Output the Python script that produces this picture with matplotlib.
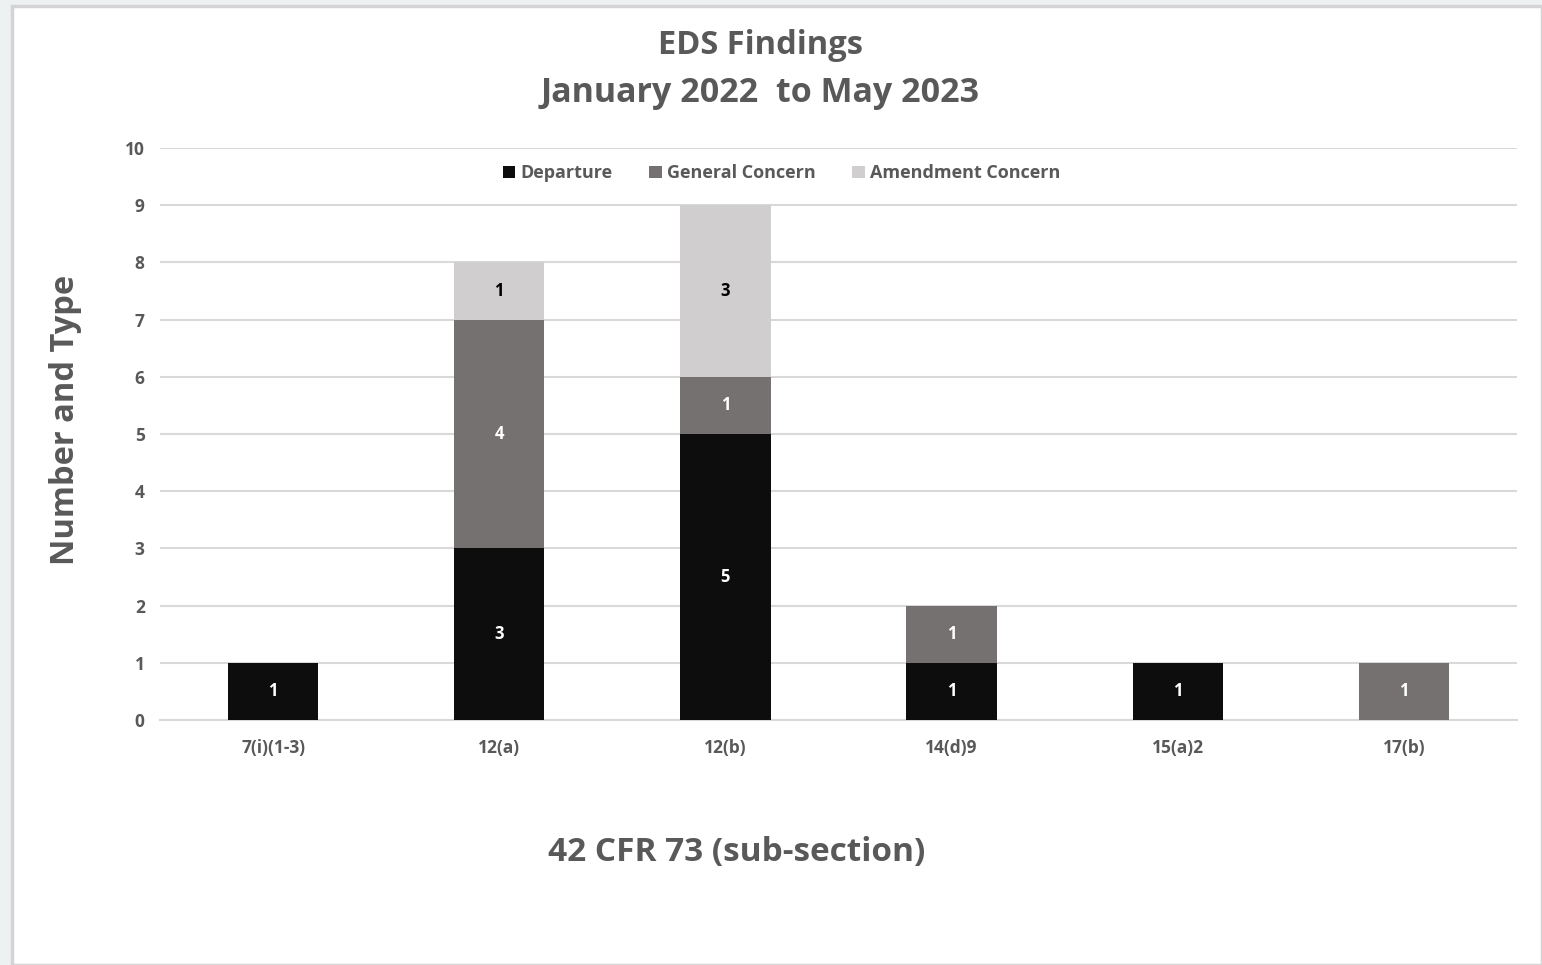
import matplotlib
matplotlib.use("Agg")
from matplotlib import pyplot as plt
from matplotlib.patches import Rectangle
import numpy as np

# datos
categorias = ["7(i)(1-3)", "12(a)", "12(b)", "14(d)9", "15(a)2", "17(b)"]
departure = [1, 3, 5, 1, 1, 0]
general = [0, 4, 1, 1, 0, 1]
amendment = [0, 1, 3, 0, 0, 0]
series = ["Departure", "General Concern", "Amendment Concern"]
colores = ["#0d0d0d", "#767171", "#d0cece"]
color_texto_etiqueta = ["white", "white", "black"]
gris = "#595959"

plt.rcParams['font.family'] = ['Open Sans', 'DejaVu Sans']

fig = plt.figure(figsize=(15.42, 9.65), dpi=100)
fig.patch.set_facecolor("#eef1f1")
# area blanca del grafico con borde
fig.patches.append(Rectangle((12/1542, 0), 1 - 12/1542, 1 - 6/965, transform=fig.transFigure,
                             facecolor="white", edgecolor="#d4d4d4", linewidth=2.5, zorder=-5))

ax = fig.add_axes([160/1542, 1 - 720/965, (1517 - 160)/1542, (720 - 148)/965])
ax.set_facecolor("none")
ax.set_zorder(2)

x = np.arange(len(categorias))
abajo = np.zeros(len(categorias))
for nombre, vals, c, tc in zip(series, [departure, general, amendment], colores, color_texto_etiqueta):
    vals = np.array(vals)
    barras = ax.bar(x, vals, 0.4, bottom=abajo, color=c, label=nombre, zorder=3)
    for b, v, y0 in zip(barras, vals, abajo):
        if v > 0:
            ax.text(b.get_x() + b.get_width()/2, y0 + v/2, str(v), ha="center", va="center",
                    color=tc, fontsize=12, fontweight="bold", zorder=4)
    abajo = abajo + vals

ax.set_xlim(-0.5, len(categorias) - 0.5)
ax.set_ylim(0, 10)
ax.set_yticks(range(0, 11))
ax.set_xticks(x)
ax.set_xticklabels(categorias)
ax.grid(axis="y", color="#d9d9d9", linewidth=1.5, zorder=0)
for s in ["top", "right", "left"]:
    ax.spines[s].set_visible(False)
ax.spines["bottom"].set_color("#d9d9d9")
ax.spines["bottom"].set_linewidth(1.5)
ax.tick_params(axis="both", length=0, colors=gris, labelsize=12.5)
ax.tick_params(axis="y", pad=11)
ax.tick_params(axis="x", pad=14)
for t in ax.get_xticklabels() + ax.get_yticklabels():
    t.set_fontweight("bold")

ley = ax.legend(loc="upper center", bbox_to_anchor=(0.458, 1.0), ncol=3, frameon=False,
                fontsize=13, handlelength=0.7, handleheight=0.7, handletextpad=0.3,
                columnspacing=2.0)
for t in ley.get_texts():
    t.set_color(gris)
    t.set_fontweight("bold")

fig.text(760/1542, 1 - 46/965, "EDS Findings", ha="center", va="center",
         fontsize=23.5, fontweight="bold", color=gris)
fig.text(760/1542, 1 - 93/965, "January 2022  to May 2023", ha="center", va="center",
         fontsize=24.5, fontweight="bold", color=gris)
fig.text(66/1542, 1 - 420/965, "Number and Type", ha="center", va="center", rotation=90,
         fontsize=23.5, fontweight="bold", color=gris)
fig.text(737/1542, 1 - 852/965, "42 CFR 73 (sub-section)", ha="center", va="center",
         fontsize=24, fontweight="bold", color=gris)

fig.savefig("out.png", dpi=100, facecolor=fig.get_facecolor())
